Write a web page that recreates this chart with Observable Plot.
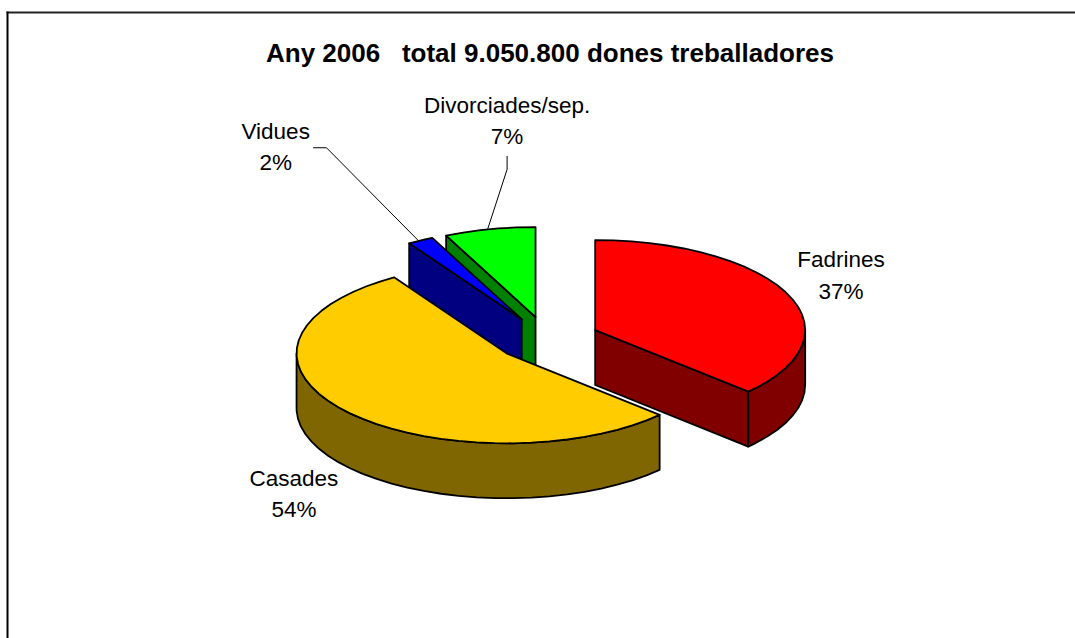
<!DOCTYPE html>
<html>
<head>
<meta charset="utf-8">
<style>html,body{margin:0;padding:0;background:#fff}svg{display:block}</style>
<script src="https://cdn.jsdelivr.net/npm/d3@7"></script>
<script src="https://cdn.jsdelivr.net/npm/@observablehq/plot@0.6"></script>
</head>
<body>
<div id="chart"></div>
<script>
const titleText = "Any 2006\u00a0\u00a0\u00a0total 9.050.800 dones treballadores";
const categories = ["Fadrines", "Casades", "Vidues", "Divorciades/sep."];
const shares = [37, 54, 2, 7];
const topColors = ["#FF0000", "#FFCC00", "#0000FF", "#00FF00"];
const wallColors = ["#800000", "#806600", "#000080", "#008000"];
const paintOrder = ["Divorciades/sep.", "Vidues", "Fadrines", "Casades"];

// Layout of the pie in its own unit space (radius 1 on both axes)
const W = 1075, H = 638;
const pie = {cx: 546.5, cy: 338.5, rx: 210, ry: 90};
const explode = 0.25, depth = 0.61, arcStep = 5;
const labelPos = {
  "Fadrines": [1.40, 0.735],
  "Casades": [-1.205, -1.695],
  "Vidues": [-1.292, 2.16],
  "Divorciades/sep.": [-0.19, 2.45]
};
const leaders = {
  "Vidues": [[-1.112, 2.125], [-1.05, 2.125]],
  "Divorciades/sep.": [[-0.19, 2.03], [-0.19, 1.885]]
};

const total = d3.sum(shares);
let cum = 0;
const slices = categories.map((name, i) => {
  const a0 = cum / total * 360;
  cum += shares[i];
  const a1 = cum / total * 360;
  const mid = (a0 + a1) / 2 * Math.PI / 180;
  return {name, share: shares[i], a0, a1, top: topColors[i], wall: wallColors[i],
          ox: explode * Math.sin(mid), oy: explode * Math.cos(mid)};
});
const rad = d => d * Math.PI / 180;
const rim = (s, a, drop = 0) => ({x: s.ox + Math.sin(rad(a)), y: s.oy + Math.cos(rad(a)) - drop});
const apex = (s, drop = 0) => ({x: s.ox, y: s.oy - drop});
function angles(a0, a1) {
  const out = [];
  for (let a = a0; a < a1; a += arcStep) out.push(a);
  out.push(a1);
  return out;
}
const closed = pts => [...pts, pts[0]];

function polygons(s) {
  const polys = [];
  // cut faces that look toward the viewer
  const face = a => closed([apex(s), rim(s, a), rim(s, a, depth), apex(s, depth)]);
  if (s.name === "Fadrines") polys.push({pts: face(s.a1), fill: s.wall});
  if (s.name === "Vidues" || s.name === "Divorciades/sep.") polys.push({pts: face(s.a0), fill: s.wall});
  // outer wall, front half of the rim only
  const lo = Math.max(s.a0, 90), hi = Math.min(s.a1, 270);
  if (lo < hi) {
    const as = angles(lo, hi);
    polys.push({pts: closed([...as.map(a => rim(s, a)), ...as.slice().reverse().map(a => rim(s, a, depth))]), fill: s.wall});
  }
  // top surface
  polys.push({pts: closed([apex(s), ...angles(s.a0, s.a1).map(a => rim(s, a))]), fill: s.top});
  return polys;
}

const bySlice = new Map(slices.map(s => [s.name, s]));
const shapeMarks = paintOrder.flatMap(n => polygons(bySlice.get(n)).map(p =>
  Plot.line(p.pts, {x: "x", y: "y", fill: p.fill, stroke: "#000", strokeWidth: 1.8, strokeLinejoin: "round"})));

const leaderMarks = Object.entries(leaders).map(([name, pts]) => {
  const s = bySlice.get(name);
  const a = (s.a0 + s.a1) / 2 - 0.6;
  return Plot.line([...pts.map(([x, y]) => ({x, y})), rim(s, a)], {x: "x", y: "y", stroke: "#000", strokeWidth: 1});
});

const labels = slices.map(s => ({
  x: labelPos[s.name][0], y: labelPos[s.name][1],
  text: `${s.name}\n${s.share}%`
}));

const chart = Plot.plot({
  width: W, height: H,
  margin: 0,
  style: {fontFamily: "'Liberation Sans', Arial, sans-serif", background: "#fff"},
  x: {domain: [(0 - pie.cx) / pie.rx, (W - pie.cx) / pie.rx], range: [0, W], axis: null},
  y: {domain: [(pie.cy - H) / pie.ry, pie.cy / pie.ry], range: [H, 0], axis: null},
  marks: [
    Plot.frame({anchor: "top", insetLeft: 7, insetTop: 12, stroke: "#222", strokeWidth: 2}),
    Plot.frame({anchor: "left", insetLeft: 7, insetTop: 12, stroke: "#000", strokeWidth: 2}),
    ...shapeMarks,
    ...leaderMarks,
    Plot.text(labels, {x: "x", y: "y", text: "text", fontSize: 22.5, lineHeight: 1.4, fill: "#000", textAnchor: "middle"}),
    Plot.text([titleText], {frameAnchor: "top", dx: 12, dy: 43, fontSize: 26, fontWeight: "bold", fill: "#000"})
  ]
});
document.getElementById("chart").append(chart);
</script>
</body>
</html>
